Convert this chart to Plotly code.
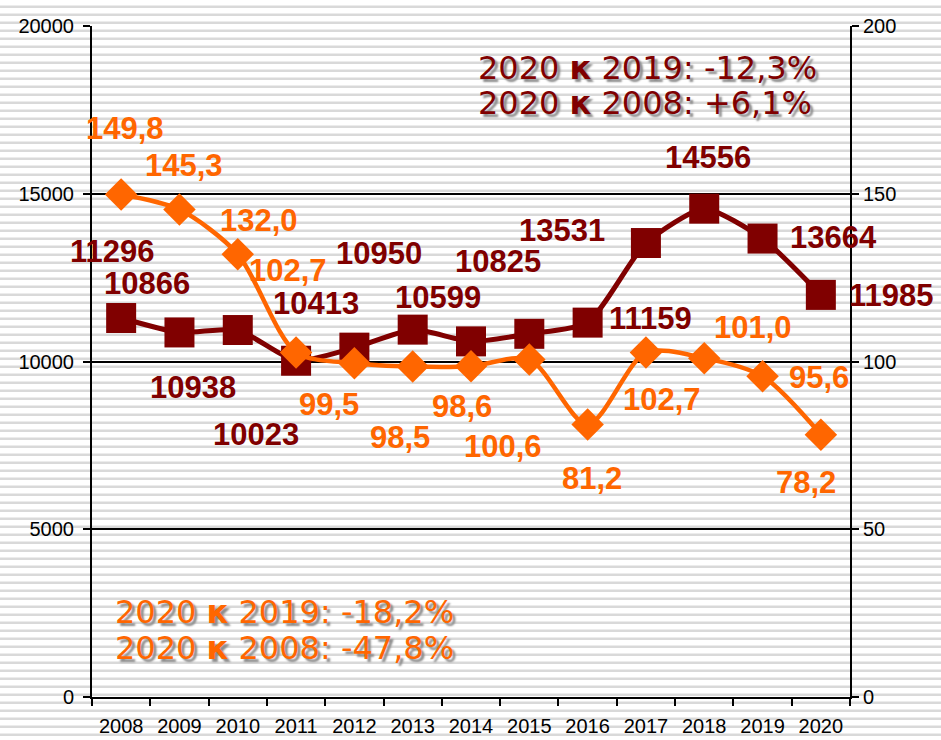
import plotly.graph_objects as go

years = ["2008", "2009", "2010", "2011", "2012", "2013", "2014", "2015", "2016", "2017", "2018", "2019", "2020"]
count_values = [11296, 10866, 10938, 10023, 10413, 10950, 10599, 10825, 11159, 13531, 14556, 13664, 11985]
index_values = [149.8, 145.3, 132.0, 102.7, 99.5, 98.5, 98.6, 100.6, 81.2, 102.7, 101.0, 95.6, 78.2]
count_labels = ["11296", "10866", "10938", "10023", "10413", "10950", "10599", "10825", "11159", "13531", "14556", "13664", "11985"]
index_labels = ["149,8", "145,3", "132,0", "102,7", "99,5", "98,5", "98,6", "100,6", "81,2", "102,7", "101,0", "95,6", "78,2"]
left_ticks = [0, 5000, 10000, 15000, 20000]
left_tick_text = ["0", "5000", "10000", "15000", "20000"]
right_ticks = [0, 50, 100, 150, 200]
note_count = ["2020 <b>к</b> 2019: -12,3%", "2020 <b>к</b> 2008: +6,1%"]
note_index = ["2020 <b>к</b> 2019: -18,2%", "2020 <b>к</b> 2008: -47,8%"]

DARK = "#800000"
ORANGE = "#FF6600"
W, H = 941, 740
L, R, T, B = 92, 91, 26, 43
PW, PH = W - L - R, H - T - B

# label offsets (pixels) relative to each point: (dx, dy-up)
count_off = [(-9, 67), (-32, 49), (-45, -57), (-40, -74), (-38, 44), (-34, 76), (-33, 44),
             (-31, 72), (63, 4), (-84, 13), (4, 51), (71, 1), (71, -1)]
index_off = [(4, 66), (5, 44), (21, 34), (-8, 82), (-25, -41), (-13, -71), (-9, -40),
             (-26, -87), (4, -54), (16, -47), (49, 31), (56, -1), (-15, -48)]

fig = go.Figure()
fig.add_trace(go.Scatter(
    x=years, y=count_values, mode="lines+markers", yaxis="y",
    line=dict(color=DARK, width=5, shape="spline", smoothing=0.6),
    marker=dict(symbol="square", size=30, color=DARK),
    showlegend=False, hoverinfo="skip"))
fig.add_trace(go.Scatter(
    x=years, y=index_values, mode="lines+markers", yaxis="y2",
    line=dict(color=ORANGE, width=4.5, shape="spline", smoothing=0.8),
    marker=dict(symbol="diamond", size=25, color=ORANGE),
    showlegend=False, hoverinfo="skip"))

lab_font_dark = dict(family="Liberation Sans, Arial", size=31, color=DARK, weight="bold")
lab_font_or = dict(family="Liberation Sans, Arial", size=31, color=ORANGE, weight="bold")
annotations = []
for i, (v, t, (dx, dy)) in enumerate(zip(count_values, count_labels, count_off)):
    annotations.append(dict(x=i, y=v, xref="x", yref="y", text=t, showarrow=False,
                            xshift=dx, yshift=dy, font=lab_font_dark))
for i, (v, t, (dx, dy)) in enumerate(zip(index_values, index_labels, index_off)):
    annotations.append(dict(x=i, y=v, xref="x", yref="y2", text=t, showarrow=False,
                            xshift=dx, yshift=dy, font=lab_font_or))

def px2paper(px, py):
    return (px - L) / PW, (H - B - py) / PH

note_font = dict(family="DejaVu Sans, Verdana", size=32)
for i, t in enumerate(note_count):
    xp, yp = px2paper(476, 68 + 35 * i)
    annotations.append(dict(x=xp, y=yp, xref="paper", yref="paper", xanchor="left", yanchor="middle",
                            text=t, showarrow=False,
                            font=dict(**note_font, color=DARK, shadow="3px 3px 2px #8c8c8c")))
for i, t in enumerate(note_index):
    xp, yp = px2paper(113, 612 + 36 * i)
    annotations.append(dict(x=xp, y=yp, xref="paper", yref="paper", xanchor="left", yanchor="middle",
                            text=t, showarrow=False,
                            font=dict(**note_font, color=ORANGE, shadow="3px 3px 2px #8c8c8c")))

# striped background over whole canvas
path = ""
py = 6.7
while py < H:
    x0, y0 = px2paper(0, py)
    x1, _ = px2paper(W, py)
    path += f"M{x0:.5f},{y0:.5f} L{x1:.5f},{y0:.5f} "
    py += 8
shapes = [dict(type="path", xref="paper", yref="paper", path=path,
               line=dict(color="#d9d9d9", width=2.5), layer="below")]

tick_font = dict(family="Liberation Sans, Arial", size=20, color="black")
fig.update_layout(
    width=W, height=H,
    margin=dict(l=L, r=R, t=T, b=B, pad=0),
    paper_bgcolor="white", plot_bgcolor="rgba(0,0,0,0)",
    annotations=annotations, shapes=shapes,
    xaxis=dict(type="category", tickson="boundaries", ticks="outside", ticklen=7, tickwidth=2,
               tickcolor="black", showline=True, linecolor="black", linewidth=2,
               showgrid=False, tickfont=tick_font, range=[-0.5, 12.5], automargin=False,
               ticklabelstandoff=10),
    yaxis=dict(range=[0, 20000], tickvals=left_ticks, ticktext=left_tick_text,
               ticks="outside", ticklen=7, tickwidth=2,
               tickcolor="black", showline=True, linecolor="black", linewidth=2,
               showgrid=True, gridcolor="black", gridwidth=1.5, zeroline=False,
               tickfont=tick_font, automargin=False, ticklabelstandoff=5),
    yaxis2=dict(range=[0, 200], tickvals=right_ticks, overlaying="y", side="right",
                ticks="outside", ticklen=7, tickwidth=2, tickcolor="black",
                showline=True, linecolor="black", linewidth=2, showgrid=False,
                zeroline=False, tickfont=tick_font, automargin=False),
)
fig.write_html("out.html", config={"displayModeBar": False},
               post_script="document.body.style.margin='0';document.body.style.overflow='hidden';")
